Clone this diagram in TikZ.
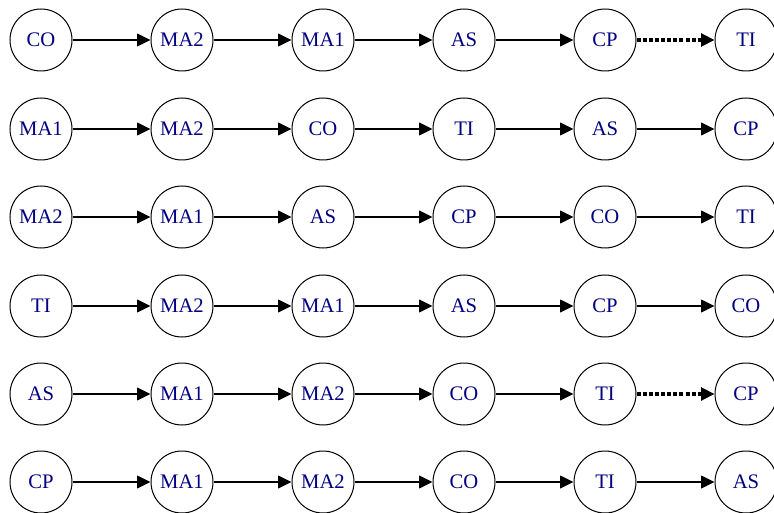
\documentclass[tikz,border=0pt]{standalone}
\usepackage{fontspec}
\setmainfont{Liberation Serif}
\usetikzlibrary{arrows.meta}
\definecolor{labelblue}{RGB}{0,0,128}
\begin{document}
\begin{tikzpicture}[x=0.75pt,y=-0.75pt,
  state/.style={circle,draw,line width=0.75pt,minimum size=46.5pt,inner sep=0pt,
    text=labelblue,font=\fontsize{15.5}{18}\selectfont},
  link/.style={-{Triangle[length=10pt,width=9.5pt]},line width=1.1pt},
  weak/.style={link,line width=2.3pt,dash pattern=on 3pt off 1.6pt}]
\useasboundingbox (0,0) rectangle (774,513);
% one sequence per row: vertical position, six states, and the style of the final link
\foreach \row/\ypos/\seq/\last in {
    0/40/{CO,MA2,MA1,AS,CP,TI}/weak,
    1/129/{MA1,MA2,CO,TI,AS,CP}/link,
    2/217/{MA2,MA1,AS,CP,CO,TI}/link,
    3/306/{TI,MA2,MA1,AS,CP,CO}/link,
    4/394/{AS,MA1,MA2,CO,TI,CP}/weak,
    5/482/{CP,MA1,MA2,CO,TI,AS}/link} {
  \foreach \lab [count=\col from 0] in \seq {
    \node[state] (s\row-\col) at ({41+141*\col},\ypos) {\lab};
  }
  \foreach \a/\b in {0/1,1/2,2/3,3/4} {
    \draw[link] (s\row-\a) -- (s\row-\b);
  }
  \draw[\last] (s\row-4) -- (s\row-5);
}
\end{tikzpicture}
\end{document}
